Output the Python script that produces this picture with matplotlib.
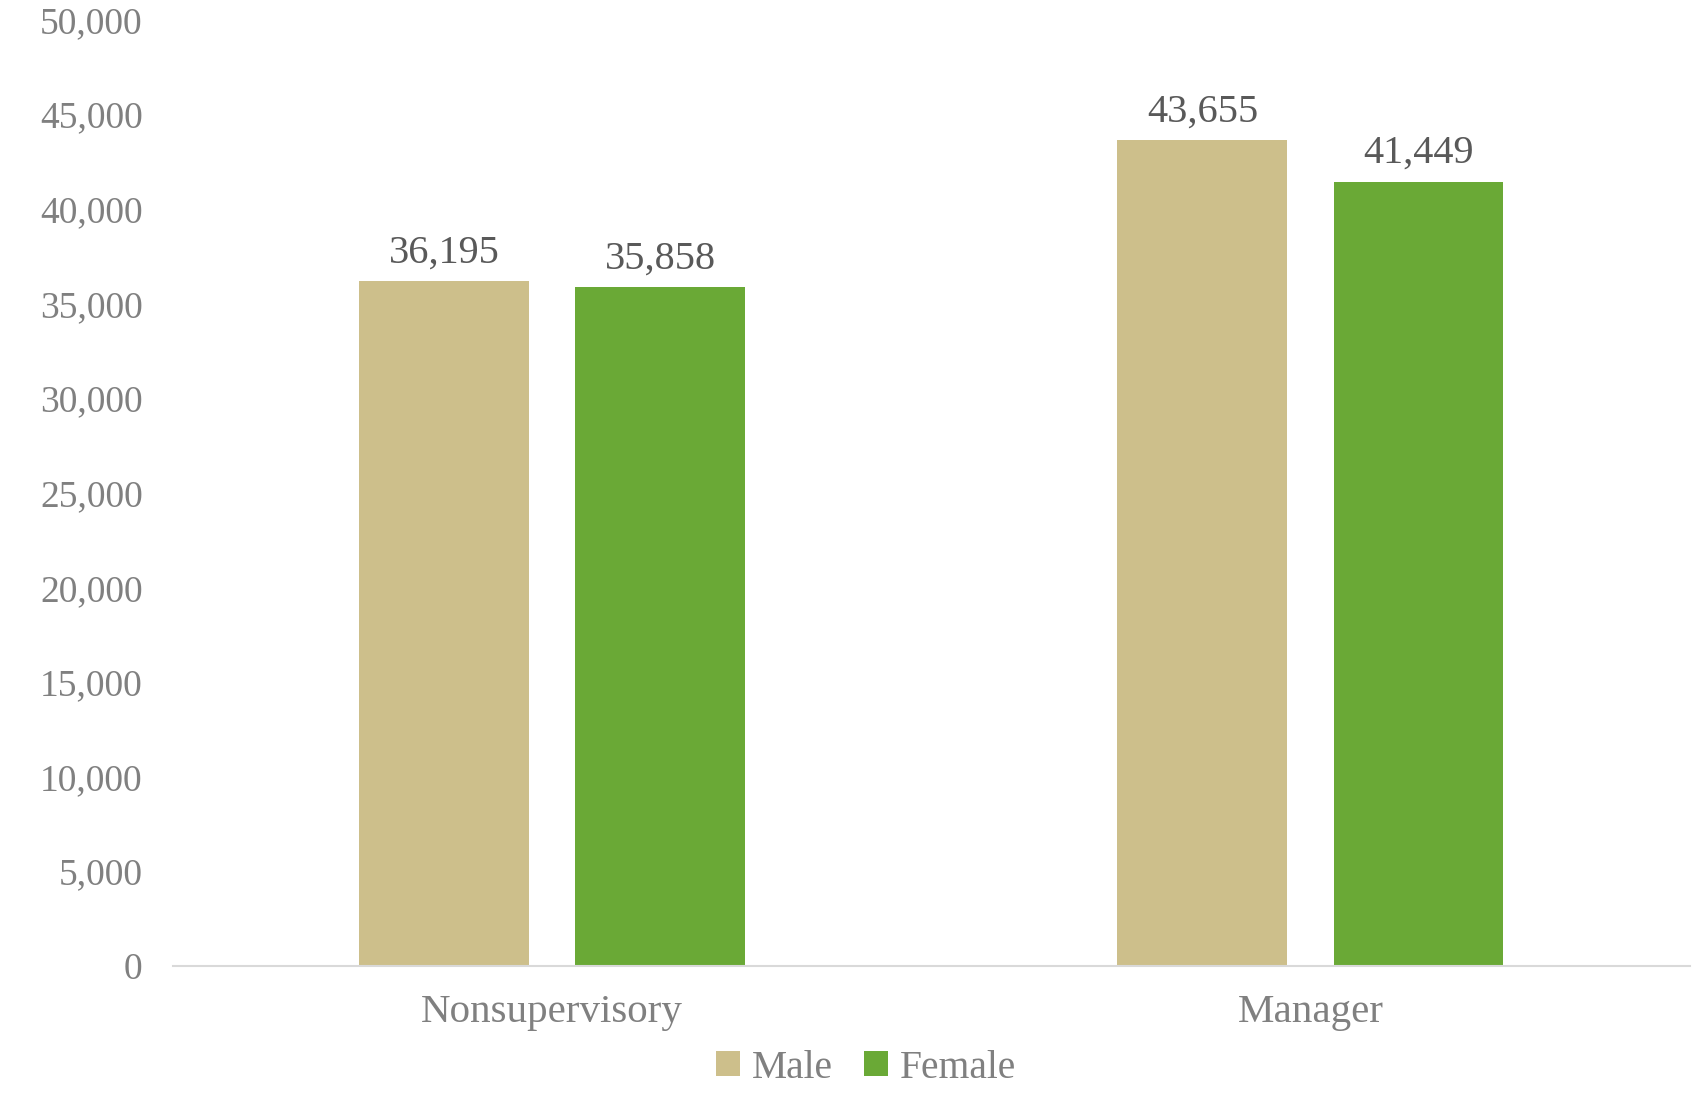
import numpy as np
import matplotlib.pyplot as plt

categories = ['Nonsupervisory', 'Manager']
male = [36195, 43655]
female = [35858, 41449]
yticks = [0, 5000, 10000, 15000, 20000, 25000, 30000, 35000, 40000, 45000, 50000]

plt.rcParams['font.family'] = ['Liberation Serif', 'DejaVu Serif']

fig = plt.figure(figsize=(16.98, 10.94), dpi=100)
ax = fig.add_axes([0.102, 0.117, 0.893, 0.865])

x = np.arange(len(categories))
w = 0.224
off = 0.1425
b1 = ax.bar(x - off, male, w, color='#CDBF8B', label='Male')
b2 = ax.bar(x + off, female, w, color='#6AA936', label='Female')

for bars, vals in [(b1, male), (b2, female)]:
    for r, v in zip(bars, vals):
        ax.text(r.get_x() + r.get_width() / 2, v + 500, f'{v:,}',
                ha='center', va='bottom', fontsize=29, color='#595959')

ax.set_xlim(-0.5, 1.5)
ax.set_ylim(0, 50000)
ax.set_yticks(yticks)
ax.set_yticklabels([f'{t:,}' for t in yticks])
ax.set_xticks(x)
ax.set_xticklabels(categories)
ax.tick_params(axis='y', length=0, labelsize=27, labelcolor='#808080', pad=22)
ax.tick_params(axis='x', length=0, labelsize=29.5, labelcolor='#808080', pad=20)

for s in ['top', 'right', 'left']:
    ax.spines[s].set_visible(False)
ax.spines['bottom'].set_color('#D9D9D9')
ax.spines['bottom'].set_linewidth(1.5)

fig.legend(handles=[b1, b2], loc='lower center', ncol=2, frameon=False,
           fontsize=28.5, labelcolor='#808080', handlelength=0.6, handleheight=0.6,
           handletextpad=0.3, columnspacing=0.8, bbox_to_anchor=(0.51, -0.026))

fig.savefig('out.png', dpi=100)
